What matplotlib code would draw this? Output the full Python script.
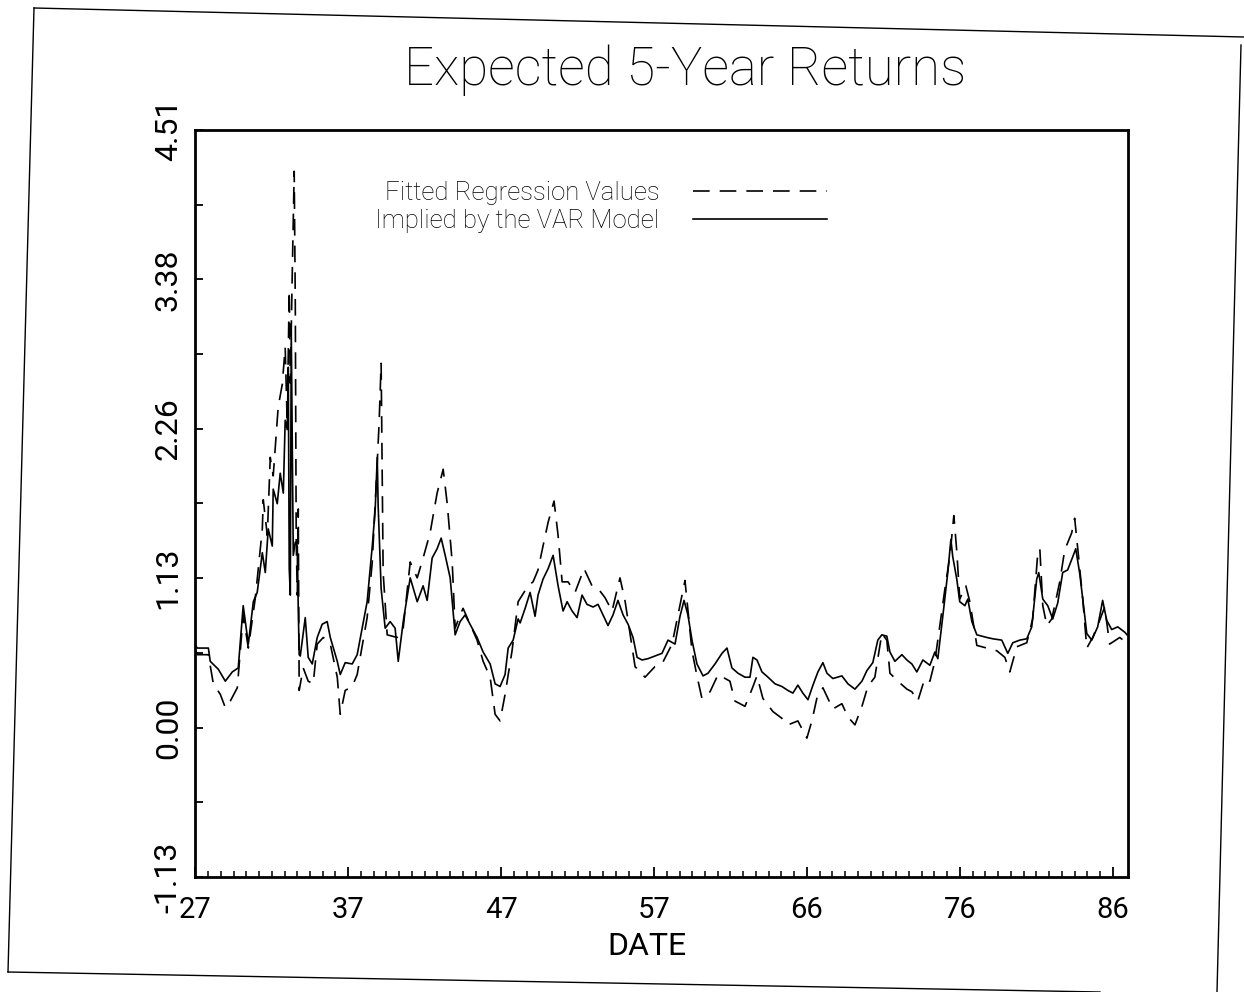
import numpy as np
import matplotlib
matplotlib.use("Agg")
import matplotlib.pyplot as plt
from matplotlib.lines import Line2D

plt.rcParams['font.family'] = ['Roboto', 'DejaVu Sans']
plt.rcParams['font.weight'] = 'light'

# decimal years (19xx) and expected 5-year returns
var_dates = [
    27.00, 27.13, 27.84, 27.96, 28.48, 28.93, 29.38, 29.76, 30.08, 30.41,
    30.73, 30.98, 31.31, 31.50, 31.69, 31.95, 32.01, 32.27, 32.46, 32.66,
    32.78, 32.91, 32.98, 33.04, 33.11, 33.17, 33.30, 33.43, 33.56, 33.62,
    33.68, 33.75, 34.07, 34.26, 34.52, 34.84, 35.16, 35.48, 35.68, 36.13,
    36.32, 36.64, 37.09, 37.41, 37.73, 38.05, 38.38, 38.57, 38.70, 38.76,
    38.95, 39.21, 39.53, 39.85, 40.05, 40.37, 40.82, 41.27, 41.65, 41.91,
    42.23, 42.55, 42.81, 43.07, 43.39, 43.71, 44.03, 44.35, 44.67, 45.12,
    45.51, 45.96, 46.28, 46.60, 46.92, 47.12, 47.44, 47.76, 47.89, 48.21,
    48.53, 48.85, 49.04, 49.36, 49.69, 50.01, 50.33, 50.65, 50.91, 51.23,
    51.55, 51.87, 52.19, 52.58, 52.90, 53.22, 53.54, 53.86, 54.18, 54.51,
    54.83, 55.15, 55.41, 55.73, 56.11, 56.56, 57.01, 57.40, 57.85, 58.17,
    58.43, 58.68, 58.94, 59.26, 59.65, 59.97, 60.42, 60.87, 61.19, 61.51,
    61.90, 62.35, 62.67, 62.86, 63.12, 63.44, 63.83, 64.28, 64.72, 65.11,
    65.43, 65.75, 66.07, 66.40, 66.72, 67.04, 67.36, 67.62, 68.00, 68.58,
    68.97, 69.42, 69.87, 70.19, 70.57, 70.89, 71.15, 71.47, 71.67, 71.99,
    72.44, 72.76, 73.08, 73.40, 73.79, 74.24, 74.56, 74.75, 75.07, 75.39,
    75.59, 75.71, 75.97, 76.16, 76.49, 76.68, 76.94, 77.26, 77.90, 78.29,
    78.86, 79.25, 79.57, 80.02, 80.47, 80.79, 81.11, 81.24, 81.50, 81.82,
    82.14, 82.46, 82.78, 83.10, 83.43, 83.62, 83.88, 84.33, 84.65, 85.03,
    85.35, 85.61, 85.93, 86.32, 86.77, 86.92,
]
var_returns = [
    0.62, 0.60, 0.60, 0.50, 0.44, 0.35, 0.42, 0.45, 0.92, 0.63,
    0.95, 1.02, 1.32, 1.17, 1.50, 1.37, 1.80, 1.69, 1.92, 1.77,
    2.32, 2.25, 2.72, 1.20, 1.00, 3.00, 1.30, 1.40, 1.37, 0.90,
    0.55, 0.54, 0.83, 0.53, 0.48, 0.68, 0.78, 0.80, 0.68, 0.50,
    0.40, 0.49, 0.48, 0.55, 0.75, 0.95, 1.37, 1.65, 2.04, 1.67,
    1.05, 0.75, 0.80, 0.75, 0.50, 0.80, 1.13, 0.95, 1.07, 0.96,
    1.28, 1.35, 1.43, 1.30, 1.13, 0.70, 0.80, 0.85, 0.78, 0.68,
    0.57, 0.48, 0.33, 0.31, 0.40, 0.60, 0.66, 0.82, 0.79, 0.90,
    1.02, 0.84, 1.00, 1.12, 1.20, 1.30, 1.07, 0.88, 0.95, 0.88,
    0.83, 1.00, 0.93, 0.91, 0.93, 0.85, 0.77, 0.85, 0.96, 0.85,
    0.78, 0.68, 0.53, 0.51, 0.52, 0.54, 0.56, 0.66, 0.63, 0.84,
    0.96, 0.85, 0.66, 0.48, 0.39, 0.41, 0.48, 0.56, 0.60, 0.45,
    0.41, 0.38, 0.38, 0.53, 0.51, 0.42, 0.38, 0.33, 0.31, 0.28,
    0.26, 0.32, 0.26, 0.21, 0.32, 0.42, 0.49, 0.41, 0.37, 0.39,
    0.33, 0.29, 0.35, 0.43, 0.49, 0.66, 0.70, 0.69, 0.57, 0.50,
    0.55, 0.51, 0.48, 0.42, 0.51, 0.47, 0.57, 0.52, 0.84, 1.17,
    1.42, 1.29, 1.12, 0.95, 0.92, 0.97, 0.80, 0.70, 0.68, 0.67,
    0.66, 0.56, 0.64, 0.66, 0.67, 0.76, 1.12, 1.17, 0.97, 0.92,
    0.82, 0.94, 1.17, 1.19, 1.29, 1.35, 1.16, 0.71, 0.66, 0.76,
    0.96, 0.81, 0.74, 0.76, 0.72, 0.70,
]

reg_dates = [
    27.00, 27.13, 27.84, 28.16, 28.61, 28.93, 29.25, 29.70, 30.08, 30.41,
    30.86, 31.31, 31.37, 31.63, 31.82, 32.01, 32.33, 32.59, 32.78, 32.91,
    33.04, 33.11, 33.23, 33.36, 33.43, 33.49, 33.56, 33.62, 33.68, 33.94,
    34.26, 34.58, 34.84, 35.23, 35.68, 36.13, 36.32, 36.64, 37.09, 37.41,
    38.05, 38.38, 38.70, 38.82, 38.95, 39.08, 39.34, 39.98, 40.37, 40.82,
    41.27, 41.65, 42.10, 42.55, 42.94, 43.20, 43.39, 43.52, 43.71, 44.03,
    44.22, 44.67, 45.12, 45.51, 45.96, 46.28, 46.60, 46.92, 47.37, 47.76,
    48.40, 48.72, 49.04, 49.36, 49.69, 50.07, 50.33, 50.59, 50.97, 51.42,
    52.00, 52.51, 52.90, 53.35, 53.80, 54.31, 54.63, 55.28, 55.92, 56.56,
    57.01, 57.66, 58.49, 58.94, 59.26, 59.58, 60.10, 60.62, 61.38, 61.70,
    62.35, 62.80, 63.12, 63.50, 64.15, 64.72, 65.11, 65.75, 66.33, 66.65,
    66.97, 67.36, 68.00, 68.58, 68.97, 69.42, 69.87, 70.25, 70.70, 71.15,
    71.47, 71.67, 72.18, 72.76, 73.08, 73.46, 73.91, 74.24, 74.56, 75.21,
    75.53, 75.78, 75.97, 76.16, 76.55, 76.81, 77.26, 77.90, 78.54, 79.06,
    79.38, 79.83, 80.47, 80.85, 81.18, 81.31, 81.50, 81.76, 82.08, 82.59,
    82.91, 83.36, 83.55, 83.75, 84.07, 84.33, 84.71, 85.16, 85.48, 85.80,
    86.45, 86.77, 86.92,
]
reg_returns = [
    0.58, 0.55, 0.55, 0.33, 0.25, 0.15, 0.20, 0.30, 0.85, 0.60,
    0.98, 1.50, 1.72, 1.45, 2.04, 1.90, 2.42, 2.59, 2.87, 2.30,
    3.30, 2.60, 3.40, 4.20, 3.20, 1.40, 1.00, 1.65, 0.28, 0.45,
    0.35, 0.33, 0.63, 0.68, 0.63, 0.38, 0.10, 0.28, 0.31, 0.40,
    0.83, 1.25, 2.00, 2.30, 2.75, 1.17, 0.70, 0.68, 0.75, 1.25,
    1.13, 1.28, 1.47, 1.77, 1.95, 1.69, 1.43, 1.25, 0.75, 0.85,
    0.90, 0.78, 0.66, 0.50, 0.38, 0.10, 0.05, 0.25, 0.58, 0.95,
    1.07, 1.10, 1.19, 1.37, 1.55, 1.71, 1.45, 1.10, 1.10, 1.02,
    1.20, 1.07, 1.05, 0.98, 0.88, 1.13, 0.96, 0.46, 0.38, 0.46,
    0.48, 0.63, 1.11, 0.58, 0.39, 0.22, 0.27, 0.40, 0.35, 0.20,
    0.16, 0.29, 0.39, 0.22, 0.12, 0.07, 0.02, 0.05, -0.08, 0.05,
    0.22, 0.30, 0.14, 0.18, 0.08, 0.02, 0.16, 0.31, 0.38, 0.71,
    0.66, 0.41, 0.35, 0.29, 0.27, 0.20, 0.37, 0.35, 0.50, 1.05,
    1.30, 1.60, 1.33, 0.97, 1.07, 0.95, 0.62, 0.60, 0.58, 0.53,
    0.42, 0.61, 0.64, 0.82, 1.32, 1.35, 0.92, 0.77, 0.82, 1.10,
    1.34, 1.47, 1.58, 1.35, 0.97, 0.60, 0.68, 0.81, 0.91, 0.63,
    0.68, 0.65, 0.62,
]

x_labels = ['27', '37', '47', '57', '66', '76', '86']
y_step = 1.128
y_min, y_max = -1.128, 4.512

W, H = 1244, 992
# outer page border, pixel corners
border = [(34, 8), (1244, 37), (1241, 45), (1217, 992), (8, 972), (1100, 992)]

fig = plt.figure(figsize=(W / 100, H / 100), dpi=100)
ax = fig.add_axes([0.157, 0.116, 0.750, 0.753])

ax.plot(reg_dates, reg_returns, color='black', lw=1.2, dashes=(10, 6),
        label='Fitted Regression Values')
ax.plot(var_dates, var_returns, color='black', lw=1.2,
        label='Implied by the VAR Model')

ax.set_xlim(27, 87)
ax.set_ylim(y_min, y_max)

ax.set_xticks(27 + np.arange(7) * 59 / 6)
ax.set_xticklabels(x_labels, fontweight='normal')
ax.set_xticks(27 + np.arange(73) * 59 / 72, minor=True)

y_major = np.round(y_min + np.arange(6) * y_step, 3)
ax.set_yticks(y_major)
ax.set_yticklabels(['%.2f' % v if abs(v) > 1e-9 else '0.00' for v in y_major],
                   rotation=90, va='center', fontweight='normal')
ax.set_yticks(y_min + np.arange(11) * y_step / 2, minor=True)

ax.tick_params(axis='x', which='major', direction='in', length=7, width=1.3,
               pad=14, labelsize=21)
ax.tick_params(axis='x', which='minor', direction='in', length=4, width=1.1)
ax.tick_params(axis='y', which='both', direction='in', length=6, width=1.3,
               pad=9, labelsize=23)
ax.tick_params(top=False, right=False, which='both')

for s in ax.spines.values():
    s.set_linewidth(2.0)

ax.set_xlabel('DATE', fontsize=23, va='top', fontweight='normal')
ax.xaxis.set_label_coords(0.484, -0.074)

ax.legend(loc='upper left', bbox_to_anchor=(0.193, 0.932), frameon=False,
          markerfirst=False, fontsize=18.5, handlelength=5.2, handletextpad=1.3,
          labelspacing=0.15, borderpad=0, borderaxespad=0)

fig.text(685 / W, 1 - 70 / H, 'Expected 5-Year Returns', ha='center',
         va='center', fontsize=38, fontweight=100)

for (x1, y1), (x2, y2) in [(border[0], border[1]), (border[2], border[3]),
                           (border[0], border[4]), (border[4], border[5])]:
    fig.add_artist(Line2D([x1 / W, x2 / W], [1 - y1 / H, 1 - y2 / H],
                          transform=fig.transFigure, color='black', lw=1.0))

fig.savefig('out.png', dpi=100)
